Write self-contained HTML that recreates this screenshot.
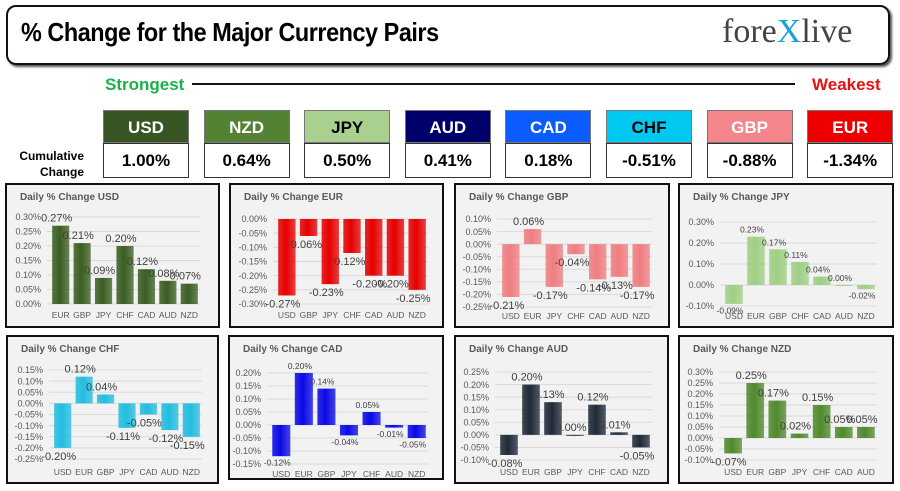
<!DOCTYPE html>
<html><head><meta charset="utf-8">
<style>
body{margin:0;background:#fff;width:900px;height:491px;overflow:hidden;position:relative;font-family:"Liberation Sans",sans-serif}
.abs{position:absolute}
.narrow{font-family:"Liberation Sans Narrow","Liberation Sans",sans-serif;font-weight:bold}
.hdr{position:absolute;top:110px;width:86px;height:33px;color:#fff;font-size:17px;text-align:center;line-height:33px;border:1px solid #777;box-sizing:border-box}
.val{position:absolute;top:143px;width:86px;height:35px;background:#fff;border:1px solid #333;box-sizing:border-box;font-size:17px;text-align:center;line-height:34px;color:#000}
</style></head><body>
<div class="abs" style="left:6px;top:5px;width:880px;height:56px;border:2px solid #111;border-radius:10px;box-shadow:2px 2px 2px #555"></div>
<div class="abs narrow" style="left:21px;top:17px;font-size:26px;color:#000;letter-spacing:-0.5px;transform:scaleX(0.9);transform-origin:left">% Change for the Major Currency Pairs</div>
<div class="abs" style="left:722px;top:13px;font-family:'Liberation Serif',serif;font-size:34px;color:#444">fore<span style="color:#1aa3d9">X</span>live</div>
<div class="abs narrow" style="left:105px;top:75px;font-size:17px;color:#1db04a">Strongest</div>
<div class="abs" style="left:192px;top:83px;width:603px;height:2px;background:#111"></div>
<div class="abs narrow" style="left:812px;top:75px;font-size:17px;color:#e81010">Weakest</div>
<div class="abs narrow" style="left:18px;top:148px;font-size:12px;text-align:right;width:66px;line-height:16px">Cumulative<br>Change</div>
<div id="cum"></div>
<svg id="charts" class="abs" style="left:0;top:0" width="900" height="491"></svg>
<script>
const cumCurrencies=["USD","NZD","JPY","AUD","CAD","CHF","GBP","EUR"];
const cumValues=[1.00,0.64,0.50,0.41,0.18,-0.51,-0.88,-1.34];
const cumColors=["#375623","#548235","#a9d08e","#00006b","#0b5cff","#00c8f0","#f4858b","#ee0000"];
const cumText=["#fff","#fff","#000","#fff","#fff","#000","#fff","#fff"];
const cum=document.getElementById('cum');
cumCurrencies.forEach((c,i)=>{
  const x=103+i*100.6;
  const h=document.createElement('div');
  
  
  h.className='hdr narrow';h.style.left=x+'px';h.style.background=cumColors[i];h.style.color=cumText[i];h.textContent=c;cum.appendChild(h);
  const v=document.createElement('div');
  
  
  v.className='val narrow';v.style.left=x+'px';v.textContent=cumValues[i].toFixed(2)+'%';cum.appendChild(v);
});

const usdCats=["EUR","GBP","JPY","CHF","CAD","AUD","NZD"];
const usdVals=[0.27,0.21,0.09,0.20,0.12,0.08,0.07];
const eurCats=["USD","GBP","JPY","CHF","CAD","AUD","NZD"];
const eurVals=[-0.27,-0.06,-0.23,-0.12,-0.20,-0.20,-0.25];
const gbpCats=["USD","EUR","JPY","CHF","CAD","AUD","NZD"];
const gbpVals=[-0.21,0.06,-0.17,-0.04,-0.14,-0.13,-0.17];
const jpyCats=["USD","EUR","GBP","CHF","CAD","AUD","NZD"];
const jpyVals=[-0.09,0.23,0.17,0.11,0.04,0.00,-0.02];
const chfCats=["USD","EUR","GBP","JPY","CAD","AUD","NZD"];
const chfVals=[-0.20,0.12,0.04,-0.11,-0.05,-0.12,-0.15];
const cadCats=["USD","EUR","GBP","JPY","CHF","AUD","NZD"];
const cadVals=[-0.12,0.20,0.14,-0.04,0.05,-0.01,-0.05];
const audCats=["USD","EUR","GBP","JPY","CHF","CAD","NZD"];
const audVals=[-0.08,0.20,0.13,0.00,0.12,0.01,-0.05];
const nzdCats=["USD","EUR","GBP","JPY","CHF","CAD","AUD"];
const nzdVals=[-0.07,0.25,0.17,0.02,0.15,0.05,0.05];
const usdTicks=[0,0.05,0.10,0.15,0.20,0.25,0.30];
const eurTicks=[-0.30,-0.25,-0.20,-0.15,-0.10,-0.05,0];
const gbpTicks=[-0.25,-0.20,-0.15,-0.10,-0.05,0,0.05,0.10];
const jpyTicks=[-0.10,0,0.10,0.20,0.30];
const chfTicks=[-0.25,-0.20,-0.15,-0.10,-0.05,0,0.05,0.10,0.15];
const cadTicks=[-0.15,-0.10,-0.05,0,0.05,0.10,0.15,0.20];
const audTicks=[-0.10,-0.05,0,0.05,0.10,0.15,0.20,0.25];
const nzdTicks=[-0.10,-0.05,0,0.05,0.10,0.15,0.20,0.25,0.30];

const charts=[
 {id:'usd',name:'USD',cats:usdCats,vals:usdVals,ticks:usdTicks,color:'#3b5e22',box:[6,184,213,143],plot:[50,217,200,304],lab:315,fs:11},
 {id:'eur',name:'EUR',cats:eurCats,vals:eurVals,ticks:eurTicks,color:'#e60000',box:[230,184,213,143],plot:[276,219,428,304],lab:315,fs:11},
 {id:'gbp',name:'GBP',cats:gbpCats,vals:gbpVals,ticks:gbpTicks,color:'#ef7d80',box:[455,184,214,143],plot:[500,219,652,307],lab:316,fs:11},
 {id:'jpy',name:'JPY',cats:jpyCats,vals:jpyVals,ticks:jpyTicks,color:'#9fcf84',box:[679,184,214,143],plot:[723,222,877,306],lab:316,fs:8.5},
 {id:'chf',name:'CHF',cats:chfCats,vals:chfVals,ticks:chfTicks,color:'#22bde0',box:[7,336,211,147],plot:[52,370,202,459],lab:472,fs:11},
 {id:'cad',name:'CAD',cats:cadCats,vals:cadVals,ticks:cadTicks,color:'#0a0ae6',box:[229,336,214,143],plot:[270,373,428,464],lab:474,fs:8.5},
 {id:'aud',name:'AUD',cats:audCats,vals:audVals,ticks:audTicks,color:'#1f2a38',box:[455,336,213,147],plot:[498,372,652,460],lab:472,fs:11},
 {id:'nzd',name:'NZD',cats:nzdCats,vals:nzdVals,ticks:nzdTicks,color:'#4f8a2d',box:[679,336,214,147],plot:[722,372,877,460],lab:472,fs:11}
];
const NS='http://www.w3.org/2000/svg';
const svg=document.getElementById('charts');
function mk(t,a,p){const e=document.createElementNS(NS,t);for(const k in a)e.setAttribute(k,a[k]);(p||svg).appendChild(e);return e;}
const defs=mk('defs',{});
charts.forEach(c=>{
  const g=mk('g',{});
  
  
  const grad=mk('linearGradient',{id:'g'+c.id,x1:0,x2:1,y1:0,y2:0},defs);
  mk('stop',{offset:'0','stop-color':c.color,'stop-opacity':'0.85'},grad);
  mk('stop',{offset:'0.45','stop-color':c.color},grad);
  mk('stop',{offset:'1','stop-color':c.color,'stop-opacity':'0.75'},grad);
  const [bx,by,bw,bh]=c.box;
  const frame=mk('rect',{x:bx,y:by,width:bw,height:bh,fill:'#f2f2f2',stroke:'#111','stroke-width':2},g);
  
  
  const t=mk('text',{x:bx+14,y:by+16,'font-size':10,'font-weight':'bold',fill:'#595959'},g);
  
  
  t.textContent='Daily % Change '+c.name;
  const [x0,yT,x1,yB]=c.plot;
  const tmin=c.ticks[0],tmax=c.ticks[c.ticks.length-1];
  const y=v=>yB-(v-tmin)/(tmax-tmin)*(yB-yT);
  const slot=(x1-x0)/c.cats.length;
  const x=i=>x0+slot*i;
  c.ticks.forEach(tv=>{
    const l=mk('line',{x1:x0-3,x2:x1,y1:y(tv),y2:y(tv),stroke:'#d9d9d9','stroke-width':1},g);
    
    
    const tl=mk('text',{x:x0-9,y:y(tv)+3.2,'font-size':9,fill:'#595959','text-anchor':'end'},g);
    
    
    tl.textContent=tv.toFixed(2)+'%';
  });
  c.vals.forEach((v,i)=>{
    const bwid=slot*0.8;
    const bxp=x(i)+(slot-bwid)/2;
    const top=Math.min(y(v),y(0)),h=Math.max(Math.abs(y(v)-y(0)),1);
    const r=mk('rect',{x:bxp,y:top,width:bwid,height:h,fill:'url(#g'+c.id+')'},g);
    
    
    const lv=mk('text',{x:bxp+bwid/2-4,y:v>=0?y(v)-4:y(v)+c.fs+1,'font-size':c.fs,fill:'#404040','text-anchor':'middle'},g);
    
    
    lv.textContent=v.toFixed(2)+'%';
    const cl=mk('text',{x:bxp+bwid/2,y:c.lab+3,'font-size':8.5,fill:'#595959','text-anchor':'middle'},g);
    
    
    cl.textContent=c.cats[i];
  });
});
</script>
</body></html>
